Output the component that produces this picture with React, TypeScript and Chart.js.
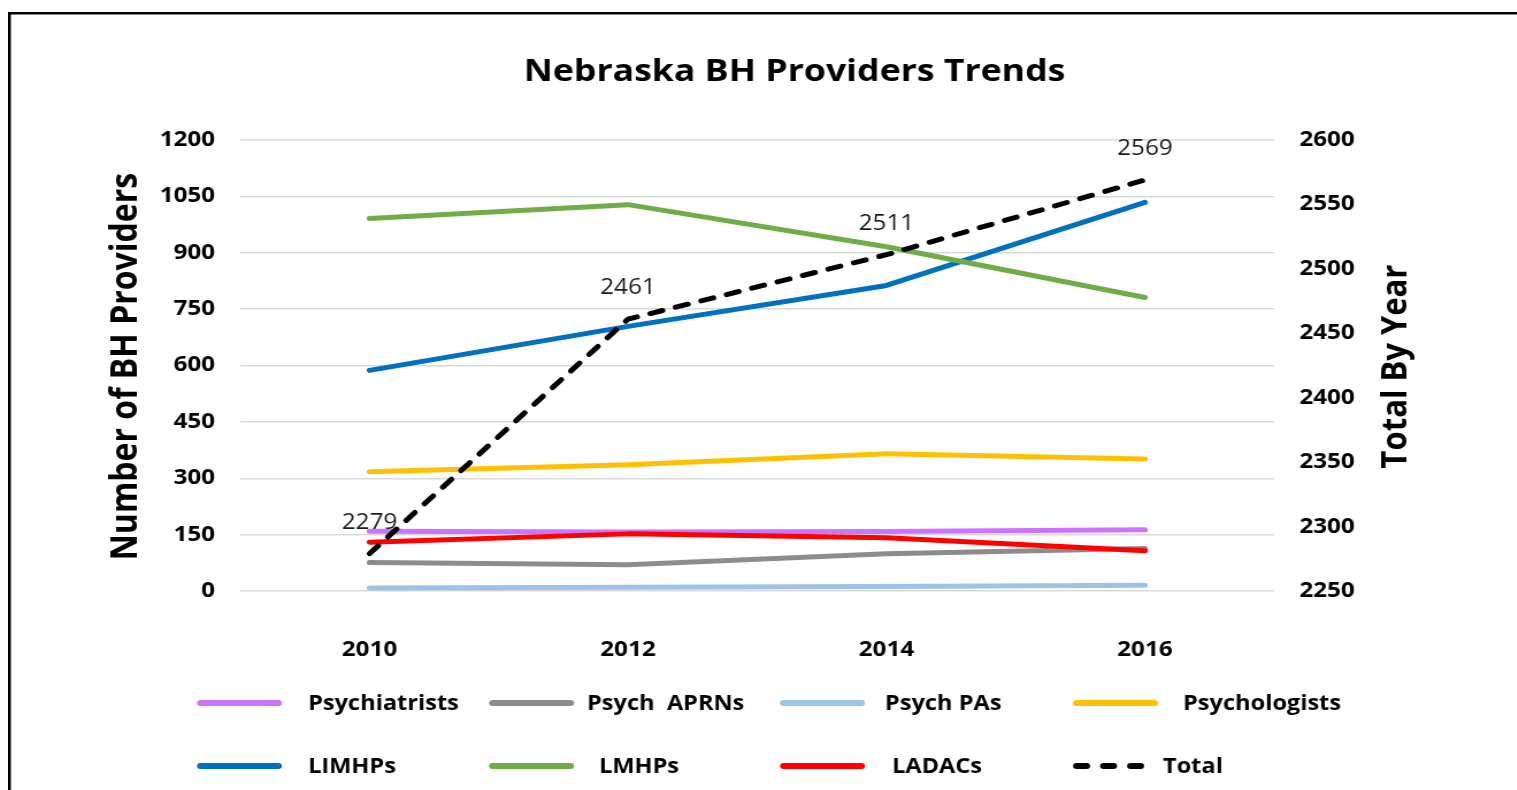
import React, { useEffect, useRef } from "react";
import { Chart, registerables } from "chart.js";

Chart.register(...registerables);

// ---------- data ----------
const years = ["2010", "2012", "2014", "2016"];
const psychiatrists = [159, 157, 158, 163];
const psychAPRNs = [76, 70, 99, 113];
const psychPAs = [8, 10, 12, 15];
const psychologists = [317, 336, 365, 351];
const limhps = [587, 704, 813, 1034];
const lmhps = [991, 1028, 916, 781];
const ladacs = [130, 152, 142, 107];
const totals = [2279, 2461, 2511, 2569];

const leftAxis = { min: 0, max: 1200, step: 150 };
const rightAxis = { min: 2250, max: 2600, step: 50 };

const seriesNames = [
  "Psychiatrists",
  "Psych  APRNs",
  "Psych PAs",
  "Psychologists",
  "LIMHPs",
  "LMHPs",
  "LADACs",
  "Total",
];
const seriesColors = [
  "#CC73FF",
  "#8C8C8C",
  "#9DC3E6",
  "#FFC000",
  "#0070C0",
  "#70AD47",
  "#FF0000",
  "#000000",
];

const titleText = "Nebraska BH Providers Trends";
const leftTitle = "Number of BH Providers";
const rightTitle = "Total By Year";

// ---------- layout (canvas units; the canvas is stretched horizontally by K) ----------
const K = 1.15;
const W = Math.round(1509 / K);
const H = 782;
const AREA_LEFT = 202;
const AREA_RIGHT = 1101;
const AREA_TOP = 132;
const AREA_BOTTOM = 583;
const FONT = "'Open Sans', 'DejaVu Sans', sans-serif";

const decorPlugin = {
  id: "decor",
  afterDatasetsDraw(chart: any) {
    const ctx = chart.ctx;
    const meta = chart.getDatasetMeta(7);
    ctx.save();
    ctx.font = `21px ${FONT}`;
    ctx.fillStyle = "#1a1a1a";
    ctx.textAlign = "center";
    ctx.textBaseline = "alphabetic";
    meta.data.forEach((pt: any, i: number) => {
      ctx.fillText(String(totals[i]), pt.x, pt.y - 25);
    });
    ctx.restore();
  },
  afterDraw(chart: any) {
    const ctx = chart.ctx;
    ctx.save();
    // frame
    ctx.strokeStyle = "#000";
    ctx.lineWidth = 2.5;
    ctx.lineCap = "butt";
    ctx.beginPath();
    ctx.moveTo(1.2, H);
    ctx.lineTo(1.2, 5.3);
    ctx.lineTo(W, 5.3);
    ctx.stroke();

    // title
    ctx.fillStyle = "#000";
    ctx.font = `bold 31px ${FONT}`;
    ctx.textAlign = "center";
    ctx.textBaseline = "alphabetic";
    ctx.fillText(titleText, 684, 72.5);

    // axis titles
    const midY = (AREA_TOP + AREA_BOTTOM) / 2 + 1;
    ctx.save();
    ctx.font = `bold 32px ${FONT}`;
    ctx.translate(111.5, midY);
    ctx.rotate(-Math.PI / 2);
    ctx.fillText(leftTitle, 0, 0);
    ctx.restore();
    ctx.save();
    ctx.font = `bold 31px ${FONT}`;
    ctx.translate(1216, midY);
    ctx.rotate(-Math.PI / 2);
    ctx.fillText(rightTitle, 0, 0);
    ctx.restore();

    // legend
    const lineStarts = [164.3, 418.3, 671.3, 926.1];
    const lineLen = 73.9;
    const textX = [
      [260.9, 503.5, 762.6, 1021.7],
      [260.9, 513.9, 768.7, 1004.3],
    ];
    const rowY = [695, 758];
    ctx.font = `bold 20.5px ${FONT}`;
    ctx.textAlign = "left";
    ctx.textBaseline = "middle";
    seriesNames.forEach((name, i) => {
      const r = Math.floor(i / 4);
      const c = i % 4;
      const y = rowY[r];
      ctx.strokeStyle = seriesColors[i];
      ctx.lineWidth = 6;
      ctx.lineCap = "round";
      ctx.beginPath();
      if (i === 7) {
        ctx.setLineDash([8.8, 14.7]);
        ctx.moveTo(lineStarts[c] + 3, y);
        ctx.lineTo(lineStarts[c] + 59, y);
      } else {
        ctx.setLineDash([]);
        ctx.moveTo(lineStarts[c] + 3, y);
        ctx.lineTo(lineStarts[c] + lineLen - 3, y);
      }
      ctx.stroke();
      ctx.setLineDash([]);
      ctx.fillStyle = "#000";
      ctx.fillText(name, textX[r][c], y + 1);
    });
    ctx.restore();
  },
};

export default function App() {
  const ref = useRef<HTMLCanvasElement | null>(null);

  useEffect(() => {
    if (!ref.current) return;
    const seriesData = [
      psychiatrists,
      psychAPRNs,
      psychPAs,
      psychologists,
      limhps,
      lmhps,
      ladacs,
      totals,
    ];
    const datasets = seriesData.map((d, i) => ({
      label: seriesNames[i],
      data: d,
      borderColor: seriesColors[i],
      backgroundColor: seriesColors[i],
      borderWidth: 5,
      pointRadius: 0,
      pointHoverRadius: 0,
      tension: 0,
      fill: false,
      yAxisID: i === 7 ? "y1" : "y",
      borderDash: i === 7 ? [11, 12] : [],
      borderCapStyle: "round",
      borderJoinStyle: "round",
      order: 10 - i,
    }));

    const tickFont = { family: FONT, size: 21, weight: "bold" as const };
    const plain = (v: any) => String(v);

    const chart = new Chart(ref.current, {
      type: "line",
      data: { labels: years, datasets: datasets as any },
      options: {
        animation: false,
        responsive: true,
        maintainAspectRatio: false,
        layout: { padding: { top: AREA_TOP, left: 0, right: 0, bottom: 0 } },
        plugins: {
          legend: { display: false },
          tooltip: { enabled: false },
          title: { display: false },
        },
        scales: {
          x: {
            offset: true,
            grid: { display: false, drawTicks: false },
            border: { display: false },
            ticks: { color: "#000", font: tickFont, padding: 46, maxRotation: 0 },
            afterFit: (s: any) => {
              s.height = H - AREA_BOTTOM;
            },
          },
          y: {
            position: "left",
            min: leftAxis.min,
            max: leftAxis.max,
            ticks: {
              stepSize: leftAxis.step,
              color: "#000",
              font: tickFont,
              padding: 22,
              callback: plain,
            },
            grid: { color: "#D9D9D9", lineWidth: 1.5, drawTicks: false },
            border: { display: false },
            afterFit: (s: any) => {
              s.width = AREA_LEFT;
            },
          },
          y1: {
            position: "right",
            min: rightAxis.min,
            max: rightAxis.max,
            ticks: {
              stepSize: rightAxis.step,
              color: "#000",
              font: tickFont,
              padding: 22,
              callback: plain,
            },
            grid: { display: false, drawTicks: false },
            border: { display: false },
            afterFit: (s: any) => {
              s.width = W - AREA_RIGHT;
            },
          },
        },
      },
      plugins: [decorPlugin],
    });
    return () => chart.destroy();
  }, []);

  return (
    <div
      style={{
        position: "absolute",
        left: 8,
        top: 8,
        width: W,
        height: H,
        transform: `scaleX(${K})`,
        transformOrigin: "0 0",
      }}
    >
      <canvas ref={ref} />
    </div>
  );
}
